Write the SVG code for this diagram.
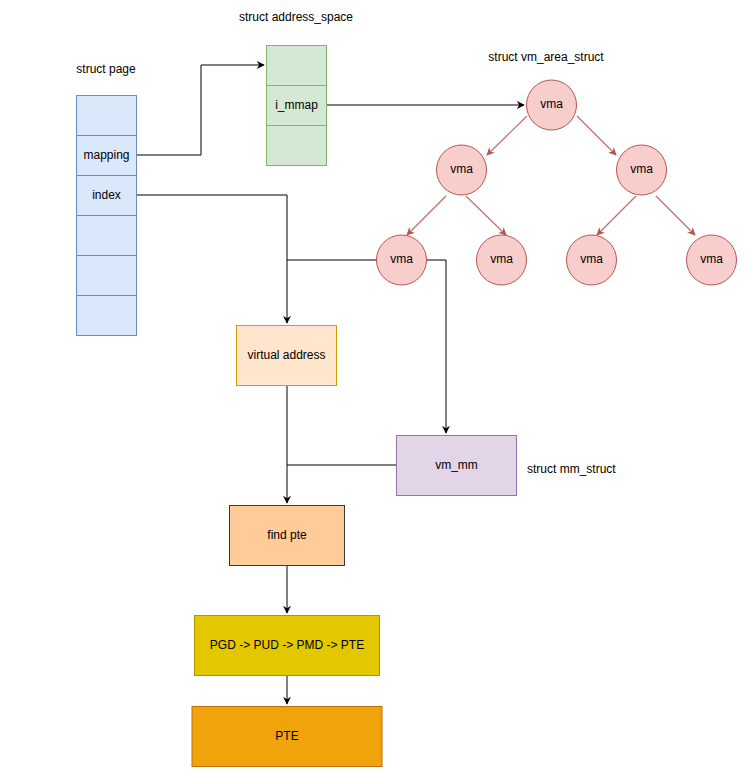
<svg xmlns="http://www.w3.org/2000/svg" width="747" height="783" viewBox="0 0 747 783">
<style>
text{font-family:"Liberation Sans",Arial,sans-serif;font-size:12px;fill:#000;text-anchor:middle;dominant-baseline:central}
.blue{fill:#dae8fc;stroke:#6c8ebf}
.green{fill:#d5e8d4;stroke:#82b366}
.vma{fill:#f8cecc;stroke:#b85450}
.edge{fill:none;stroke:#000;stroke-width:1}
.redge{fill:none;stroke:#b85450;stroke-opacity:0.85;stroke-width:1.2}
.lbl{text-anchor:start}
</style>
<defs>
<marker id="ab" viewBox="0 0 10 10" refX="9" refY="5" markerWidth="8" markerHeight="8" markerUnits="userSpaceOnUse" orient="auto">
<path d="M0,0 L10,5 L0,10 L3,5 Z" fill="#000"/>
</marker>
<marker id="ar" viewBox="0 0 10 10" refX="9" refY="5" markerWidth="8" markerHeight="8" markerUnits="userSpaceOnUse" orient="auto">
<path d="M0,0 L10,5 L0,10 L3,5 Z" fill="#b85450"/>
</marker>
</defs>
<rect width="747" height="783" fill="#fff"/>

<g id="labels">
<text x="296" y="17">struct address_space</text>
<text x="106" y="69">struct page</text>
<text x="546" y="57">struct vm_area_struct</text>
<text x="527" y="469" class="lbl">struct mm_struct</text>
</g>

<g id="connectors">
<polyline class="edge" points="136.5,155 201,155 201,65 264,65" marker-end="url(#ab)"/>
<polyline class="edge" points="326,105 524,105" marker-end="url(#ab)"/>
<polyline class="edge" points="136.5,195 287,195 287,323" marker-end="url(#ab)"/>
<polyline class="edge" points="376.5,260 287,260"/>
<polyline class="edge" points="426.5,260 446,260 446,433" marker-end="url(#ab)"/>
<polyline class="edge" points="287,385 287,503" marker-end="url(#ab)"/>
<polyline class="edge" points="396,465 287,465"/>
<polyline class="edge" points="287,565 287,613" marker-end="url(#ab)"/>
<polyline class="edge" points="287,675 287,704" marker-end="url(#ab)"/>
<line class="redge" x1="527" y1="116" x2="487" y2="155" marker-end="url(#ar)"/>
<line class="redge" x1="577" y1="116" x2="616" y2="155" marker-end="url(#ar)"/>
<line class="redge" x1="446" y1="196" x2="407" y2="235" marker-end="url(#ar)"/>
<line class="redge" x1="466" y1="196" x2="506" y2="235" marker-end="url(#ar)"/>
<line class="redge" x1="636" y1="196" x2="597" y2="235" marker-end="url(#ar)"/>
<line class="redge" x1="656" y1="196" x2="695" y2="235" marker-end="url(#ar)"/>
</g>

<g id="page">
<rect class="blue" x="76.5" y="95.5" width="60" height="40"/>
<rect class="blue" x="76.5" y="135.5" width="60" height="40"/>
<rect class="blue" x="76.5" y="175.5" width="60" height="40"/>
<rect class="blue" x="76.5" y="215.5" width="60" height="40"/>
<rect class="blue" x="76.5" y="255.5" width="60" height="40"/>
<rect class="blue" x="76.5" y="295.5" width="60" height="40"/>
<text x="106.5" y="154.5">mapping</text>
<text x="106.5" y="194.5">index</text>
</g>

<g id="address_space">
<rect class="green" x="266.5" y="45.5" width="60" height="40"/>
<rect class="green" x="266.5" y="85.5" width="60" height="40"/>
<rect class="green" x="266.5" y="125.5" width="60" height="40"/>
<text x="296.5" y="104.5">i_mmap</text>
</g>

<g id="vma_root"><circle class="vma" cx="551.5" cy="105" r="25"/><text x="551.5" y="104">vma</text></g>
<g id="vma_l"><circle class="vma" cx="461.5" cy="170" r="25"/><text x="461.5" y="169">vma</text></g>
<g id="vma_r"><circle class="vma" cx="641.5" cy="170" r="25"/><text x="641.5" y="169">vma</text></g>
<g id="vma_ll"><circle class="vma" cx="401.5" cy="260" r="25"/><text x="401.5" y="259">vma</text></g>
<g id="vma_lr"><circle class="vma" cx="501.5" cy="260" r="25"/><text x="501.5" y="259">vma</text></g>
<g id="vma_rl"><circle class="vma" cx="591.5" cy="260" r="25"/><text x="591.5" y="259">vma</text></g>
<g id="vma_rr"><circle class="vma" cx="711.5" cy="260" r="25"/><text x="711.5" y="259">vma</text></g>

<g id="virtual_address">
<rect x="236.5" y="325.5" width="100" height="60" fill="#ffe6cc" stroke="#d79b00"/>
<text x="286.5" y="354.5">virtual address</text>
</g>

<g id="vm_mm">
<rect x="396.5" y="435.5" width="120" height="60" fill="#e1d5e7" stroke="#9673a6"/>
<text x="456.5" y="464.5">vm_mm</text>
</g>

<g id="find_pte">
<rect x="229.5" y="505.5" width="115" height="60" fill="#ffcc99" stroke="#36393d"/>
<text x="287" y="534.5">find pte</text>
</g>

<g id="pgd">
<rect x="194.5" y="615.5" width="185" height="60" fill="#e3c800" stroke="#b09500"/>
<text x="287" y="644.5">PGD -&gt; PUD -&gt; PMD -&gt; PTE</text>
</g>

<g id="pte">
<rect x="192" y="706.5" width="190" height="60" fill="#f0a30a" stroke="#bd7000"/>
<text x="287" y="735.5">PTE</text>
</g>
</svg>
